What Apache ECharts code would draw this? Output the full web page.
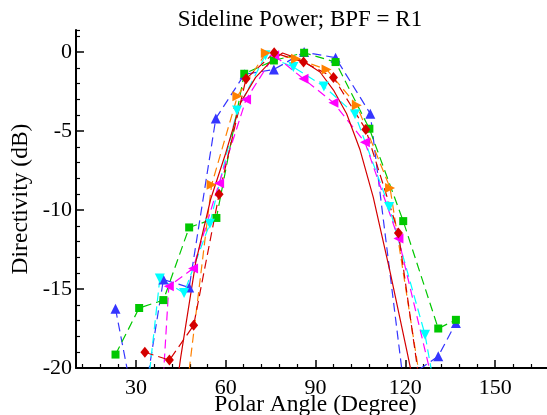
<!DOCTYPE html>
<html>
<head>
<meta charset="utf-8">
<script src="https://cdn.jsdelivr.net/npm/echarts@6/dist/echarts.min.js"></script>
<style>
  html, body { margin: 0; padding: 0; background: #ffffff; }
  #chart { width: 547px; height: 415px; }
</style>
</head>
<body>
<div id="chart"></div>
<script>
// values (angle in degrees, directivity in dB)
const blueAngles = [23.2, 31.1, 39.2, 47.8, 56.7, 66.3, 76.1, 86.2, 96.7, 108.3, 119.3, 131.0, 136.9];
const blueDb     = [-16.25, -24.0, -14.4, -14.9, -4.2, -1.4, -1.1, 0.0, -0.35, -3.9, -20.8, -19.25, -17.15];

const greenAngles = [23.2, 31.1, 39.2, 47.8, 56.9, 66.2, 76.1, 86.2, 96.7, 108.0, 119.3, 131.0, 136.9];
const greenDb     = [-19.15, -16.2, -15.7, -11.1, -10.5, -1.37, -0.53, -0.04, -0.63, -4.85, -10.7, -17.5, -16.95];

const cyanAngles = [29.5, 38.0, 46.1, 54.7, 63.8, 73.3, 82.6, 92.8, 103.2, 114.6, 126.6, 137.0];
const cyanDb     = [-29.0, -14.34, -15.25, -10.86, -3.7, -0.2, -0.95, -2.17, -3.94, -9.8, -17.9, -29.0];

const orangeAngles = [46.1, 55.3, 63.9, 73.4, 83.5, 93.7, 103.8, 114.9, 126.6];
const orangeDb     = [-22.8, -8.4, -2.8, -0.06, -0.42, -1.1, -3.37, -8.6, -22.8];

const magentaAngles = [33.0, 41.0, 49.1, 57.8, 66.8, 76.2, 86.0, 96.0, 106.5, 117.7, 128.5];
const magentaDb     = [-40.0, -14.83, -13.7, -8.3, -3.0, -0.2, -1.69, -3.2, -5.7, -11.8, -20.4];

const redSolidAngles = [40, 45, 50, 55, 60, 65, 70, 75, 79, 82.5, 87, 91.5, 96, 100.4, 104.9, 109.3, 115, 120.5, 125];
const redSolidDb     = [-26, -19.3, -13.3, -9.3, -6.4, -3.2, -1.6, -0.6, -0.06, -0.3, -0.7, -1.26, -2.4, -3.9, -6.2, -9.2, -14.0, -18.9, -23];

const redAngles = [33.0, 41.2, 49.3, 57.8, 66.8, 76.2, 86.0, 96.0, 106.8, 117.7, 128.5];
const redDb     = [-19.0, -19.5, -17.3, -9.0, -1.69, -0.04, -0.63, -1.6, -4.9, -11.45, -26.0];

const xMajorTicks = [30, 60, 90, 120, 150];
const xMinorTicks = [12, 18, 24, 36, 42, 48, 54, 66, 72, 78, 84, 96, 102, 108, 114, 126, 132, 138, 144, 156, 162, 168];
const yMajorTicks = [-20, -15, -10, -5, 0];
const yMinorTicks = [-19, -18, -17, -16, -14, -13, -12, -11, -9, -8, -7, -6, -4, -3, -2, -1, 1, 1.4];

const font = 'Liberation Serif';

function pairs(xs, ys) {
    return xs.map(function(x, i) { return [x, ys[i]]; });
}

function lineSeries(name, xs, ys, color, symbol, rotate, size, dashed) {
    return {
        name: name,
        type: 'line',
        data: pairs(xs, ys),
        symbol: symbol,
        symbolSize: size,
        symbolRotate: rotate,
        showSymbol: symbol !== 'none',
        itemStyle: { color: color },
        lineStyle: { color: color, width: 1.2, type: dashed ? [9, 5] : 'solid' },
        animation: false
    };
}

const chart = echarts.init(document.getElementById('chart'));

const option = {
    animation: false,
    backgroundColor: '#ffffff',
    title: {
        text: 'Sideline Power; BPF = R1',
        left: 295,
        top: 3,
        textAlign: 'center',
        textStyle: { fontFamily: font, fontSize: 23, fontWeight: 'normal', color: '#000' }
    },
    grid: { left: 76, right: -8, top: 30, bottom: 47, containLabel: false, outerBoundsMode: 'none' },
    xAxis: [
        {
            type: 'value',
            min: 10,
            max: 170,
            position: 'bottom',
            name: 'Polar Angle (Degree)',
            nameLocation: 'middle',
            nameGap: 25,
            nameMoveOverlap: false,
            nameTextStyle: { fontFamily: font, fontSize: 23.5, color: '#000' },
            axisLine: { show: true, onZero: false, lineStyle: { color: '#000', width: 2 } },
            axisTick: { show: true, inside: true, length: 8, customValues: xMajorTicks, lineStyle: { color: '#000', width: 1.5 } },
            axisLabel: { customValues: xMajorTicks, fontFamily: font, fontSize: 22, color: '#000', margin: 9 },
            splitLine: { show: false }
        },
        {
            type: 'value',
            min: 10,
            max: 170,
            position: 'bottom',
            axisLine: { show: false, onZero: false },
            axisTick: { show: true, inside: true, length: 4, customValues: xMinorTicks, lineStyle: { color: '#000', width: 1.2 } },
            axisLabel: { show: false },
            splitLine: { show: false }
        }
    ],
    yAxis: [
        {
            type: 'value',
            min: -20,
            max: 1.4,
            position: 'left',
            name: 'Directivity (dB)',
            nameLocation: 'middle',
            nameGap: 43,
            nameMoveOverlap: false,
            nameTextStyle: { fontFamily: font, fontSize: 23.5, color: '#000' },
            axisLine: { show: true, onZero: false, lineStyle: { color: '#000', width: 2 } },
            axisTick: { show: true, inside: true, length: 8, customValues: yMajorTicks, lineStyle: { color: '#000', width: 1.5 } },
            axisLabel: { customValues: yMajorTicks, fontFamily: font, fontSize: 22, color: '#000', margin: 4 },
            splitLine: { show: false }
        },
        {
            type: 'value',
            min: -20,
            max: 1.4,
            position: 'left',
            axisLine: { show: false, onZero: false },
            axisTick: { show: true, inside: true, length: 4, customValues: yMinorTicks, lineStyle: { color: '#000', width: 1.2 } },
            axisLabel: { show: false },
            splitLine: { show: false }
        }
    ],
    series: [
        lineSeries('blue', blueAngles, blueDb, '#3535ff', 'triangle', 0, 10, true),
        lineSeries('green', greenAngles, greenDb, '#00c800', 'rect', 0, 8, true),
        lineSeries('cyan', cyanAngles, cyanDb, '#00ffff', 'triangle', 180, 10, true),
        lineSeries('orange', orangeAngles, orangeDb, '#ff8000', 'triangle', -90, 10, true),
        lineSeries('magenta', magentaAngles, magentaDb, '#ff00ff', 'triangle', 90, 10, true),
        lineSeries('red solid', redSolidAngles, redSolidDb, '#d40000', 'none', 0, 0, false),
        lineSeries('red', redAngles, redDb, '#d40000', 'diamond', 0, [9, 11], true)
    ]
};

chart.setOption(option);

window.addEventListener('resize', function() {
    chart.resize();
});
</script>
</body>
</html>
